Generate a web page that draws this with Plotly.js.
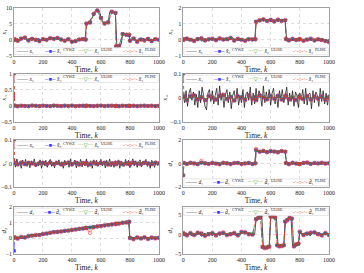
<!DOCTYPE html>
<html><head><meta charset="utf-8">
<script src="https://cdn.plot.ly/plotly-3.0.1.min.js"></script>
<style>html,body{margin:0;padding:0;background:#fff}#chart{width:364px;height:273px}</style>
</head><body><div id="chart"></div>
<script>
// time grids
const kTrue = [0,10,20,30,40,50,60,70,80,90,100,110,120,130,140,150,160,170,180,190,200,210,220,230,240,250,260,270,280,290,300,310,320,330,340,350,360,370,380,390,400,410,420,430,440,450,460,470,480,490,500,510,520,530,540,550,560,570,580,590,600,610,620,630,640,650,660,670,680,690,700,710,720,730,740,750,760,770,780,790,800,810,820,830,840,850,860,870,880,890,900,910,920,930,940,950,960,970,980,990,1000];
const kEst = [0,5,25,50,75,100,125,150,175,200,225,250,275,300,325,350,375,400,425,450,475,495,500,525,550,575,600,625,650,675,700,705,725,750,775,795,800,825,850,875,900,925,950,975,1000];
const kEstD3 = [0,5,25,50,75,100,125,150,175,200,225,250,275,300,325,350,375,400,425,450,475,500,515,530,545,560,575,590,600,615,630,645,660,675,690,700,715,730,745,760,775,790,800,825,850,875,900,925,950,975,1000];
const xTicks = [0,200,400,600,800,1000];

// x1
const x1True = [0.1,-0.3,0.4,0.2,-0.4,0.5,0.3,0.8,0.6,-0.2, 0.3,0.5,-0.1,0.2,0.4,-0.3,0.1,0.6,-0.2,0.1, 0.3,-0.2,0.2,0.0,0.4,0.6,0.5,0.7,0.3,0.5, 0.6,0.2,0.4,-0.1,0.1,-0.3,0.2,0.0,0.3,-0.2, -0.5,-0.6,-0.3,-0.5,-0.2,0.1,0.2,0.0,0.4,0.2, 5.0,5.4,5.3,6.6,6.9,8.0,9.1,9.3,8.9,9.0, 7.0,5.6,5.2,5.0,5.4,5.5,8.6,8.9,8.5,8.7, 8.3,-2.0,-2.6,-1.6,-1.4,1.9,1.8,1.6,1.7,1.5, 0.3,-0.4,0.5,-0.1,0.2,-0.5,0.4,0.1,-0.3,0.5, 0.2,-0.2,0.4,-0.4,0.1,0.3,-0.3,0.2,0.5,-0.1, 0.3];
const x1CYWZ = [0.0,0.2, -0.2,0.4,0.7,-0.1,0.4,0.0,-0.3,0.2,0.1,0.5,0.4,0.6,0.2,-0.2,0.2,-0.5,-0.4,0.1,0.3, 0.1, 5.1,5.5,8.1,9.2,6.9,5.2,5.6,8.8,8.4, -2.0, -1.8,1.9,1.6, 1.5, -0.2,0.4,-0.5,0.2,-0.1,0.3,-0.4,0.2,0.1];
const x1ULISE = [0.0,0.1, -0.3,0.5,0.6,-0.2,0.3,0.1,-0.4,0.3,0.0,0.6,0.3,0.5,0.1,-0.3,0.3,-0.6,-0.3,0.2,0.2, 0.0, 5.0,5.6,8.0,9.1,7.0,5.1,5.5,8.7,8.5, -2.1, -1.9,1.8,1.7, 1.6, -0.3,0.5,-0.4,0.1,-0.2,0.4,-0.3,0.3,0.0];
const x1PLISE = [0.0,0.3, -0.3,0.5,0.8,-0.2,0.3,0.1,-0.4,0.3,0.0,0.6,0.3,0.7,0.1,-0.3,0.3,-0.6,-0.3,0.2,0.2, 0.2, 5.2,5.4,8.2,9.3,6.8,5.1,5.4,8.9,8.5, -1.9, -2.0,1.8,1.7, 1.7, -0.3,0.5,-0.6,0.1,-0.2,0.4,-0.3,0.3,0.0];

// x2
const x2True = [0.02,-0.05,0.08,0.03,-0.06,0.05,0.10,-0.04,0.06,0.01, -0.03,0.07,0.02,-0.08,0.04,0.09,-0.02,0.05,0.00,0.06, -0.05,0.03,0.08,-0.04,0.01,0.07,0.12,0.04,-0.03,0.06, 0.02,-0.06,0.05,0.09,0.15,0.03,-0.02,0.07,0.01,-0.04, 0.06,0.02,-0.07,0.04,0.08,-0.03,0.05,0.01,0.06,-0.02, 1.10,1.25,1.20,1.30,1.18,1.27,1.22,1.15,1.28,1.21, 1.26,1.12,1.24,1.19,1.30,1.14,1.22,1.27,1.18,1.24, 1.20,-0.06,0.03,0.08,-0.04,0.02,0.06,-0.08,0.01,0.05, -0.03,0.07,-0.05,0.02,0.09,-0.06,0.04,0.00,-0.04,0.06, 0.03,-0.07,0.05,0.01,-0.09,0.04,0.08,-0.03,0.02,-0.05, 0.04];
const x2CYWZ = [0.0,0.05, 0.08,0.02,-0.05,0.06,0.1,-0.02,0.04,0.07,0.0,0.09,0.03,0.05,0.12,-0.03,0.06,0.02,-0.04,0.05,0.03, 0.04, 1.15,1.22,1.28,1.2,1.25,1.17,1.26,1.2,1.23, 0.05, -0.02,0.06,0.01, 0.03, 0.05,-0.04,0.03,0.07,-0.02,0.04,0.01,-0.06,-0.12];
const x2ULISE = [0.0,0.03, 0.06,0.04,-0.03,0.08,0.07,0.0,0.02,0.05,0.02,0.07,0.05,0.03,0.1,-0.01,0.04,0.04,-0.02,0.07,0.01, 0.02, 1.17,1.2,1.26,1.22,1.23,1.19,1.24,1.22,1.21, 0.03, 0.0,0.04,0.03, 0.01, 0.03,-0.02,0.05,0.05,0.0,0.02,0.03,-0.04,-0.1];
const x2PLISE = [0.0,0.06, 0.1,0.0,-0.07,0.05,0.12,-0.04,0.06,0.09,-0.02,0.11,0.02,0.07,0.14,-0.05,0.08,0.0,-0.06,0.03,0.05, 0.06, 1.12,1.25,1.3,1.18,1.27,1.15,1.28,1.18,1.25, 0.07, -0.04,0.08,-0.01, 0.05, 0.07,-0.06,0.01,0.09,-0.04,0.06,-0.01,-0.08,-0.15];

// x3
const x3True = [0,0.004,-0.003,0.002,-0.005,0.003,0.001,-0.002,0.004,-0.001, 0.002,-0.004,0.003,0.000,-0.002,0.005,-0.003,0.001,0.002,-0.004, 0.003,-0.001,0.004,-0.002,0.000,0.002,-0.005,0.003,-0.001,0.002, -0.003,0.004,0.001,-0.002,0.003,-0.004,0.002,0.000,-0.003,0.004, 0.001,-0.002,0.003,-0.001,0.005,-0.003,0.002,-0.004,0.001,0.003, -0.002,0.004,-0.001,0.002,-0.005,0.003,0.000,-0.002,0.004,-0.003, 0.002,0.001,-0.004,0.003,-0.001,0.002,-0.003,0.005,0.000,-0.002, 0.003,-0.004,0.001,0.002,-0.003,0.004,-0.001,0.000,0.003,-0.002, 0.004,-0.003,0.001,-0.001,0.002,-0.004,0.003,0.000,-0.002,0.005, -0.001,0.002,-0.003,0.004,0.000,-0.002,0.003,-0.004,0.001,0.002, -0.001];
const x3CYWZ = [1.0,0.01,-0.01,0.005,0.0,-0.008,0.01,0.002,-0.005,0.007, 0.0,-0.006,0.009,0.003,-0.004,0.006,-0.002,0.008,-0.007,0.001, 0.005,-0.003,0.007,0.0,-0.006,0.004,0.008,-0.005,0.002,0.006, -0.004,0.003,-0.008,0.005,0.0,0.007,-0.003,0.004,-0.006,0.002, 0.006,-0.002,0.003,-0.005,0.001];
const x3ULISE = [1.0,0.008,-0.006,0.003,0.004,-0.005,0.007,0.0,-0.003,0.005, 0.002,-0.004,0.006,0.001,-0.002,0.004,0.0,0.006,-0.005,0.003, 0.003,-0.001,0.005,0.002,-0.004,0.002,0.006,-0.003,0.0,0.004, -0.002,0.001,-0.006,0.003,0.002,0.005,-0.001,0.002,-0.004,0.0, 0.004,0.0,0.002,-0.003,0.003];
const x3PLISE = [1.0,0.012,-0.012,0.007,-0.003,-0.01,0.012,0.004,-0.007,0.009, -0.002,-0.008,0.011,0.005,-0.006,0.008,-0.004,0.01,-0.009,0.003, 0.007,-0.005,0.009,-0.002,-0.008,0.006,0.01,-0.007,0.004,0.008, -0.006,0.005,-0.01,0.007,-0.002,0.009,-0.005,0.006,-0.008,0.004, 0.008,-0.004,0.005,-0.007,0.002];

// x4
const x4True = [0.01,-0.02,0.03,-0.035,0.02,0.04,-0.01,0.025,-0.03,0.015, -0.04,0.03,-0.02,0.045,0.01,-0.035,-0.05,0.02,0.035,-0.015, 0.03,-0.025,0.01,0.04,-0.03,0.05,-0.01,0.02,-0.04,0.015, 0.035,-0.02,0.025,-0.045,0.01,0.03,-0.015,0.04,-0.03,0.005, -0.02,0.035,-0.04,0.015,0.025,-0.01,0.045,-0.03,0.02,-0.025, 0.04,-0.015,0.03,0.01,-0.035,0.05,-0.02,0.025,-0.01,0.035, -0.03,0.02,0.04,-0.025,0.015,-0.04,0.03,-0.005,0.035,-0.02, 0.01,0.045,-0.03,0.02,-0.015,0.03,-0.035,0.025,0.01,-0.04, 0.02,-0.01,0.035,-0.025,0.04,-0.03,0.015,0.02,-0.045,0.03, -0.02,0.025,0.01,-0.035,0.04,-0.015,0.03,-0.025,0.02,-0.03, 0.015];
const x4CYWZ = [0.1,0.005,-0.008,0.006,0.01,-0.005,0.003,-0.009,0.007,0.002, -0.006,0.008,0.012,-0.004,0.005,-0.01,0.006,0.003,-0.007,0.009, -0.002,0.004,-0.008,0.01,0.002,-0.005,0.007,-0.003,0.008,-0.006, 0.004,0.009,-0.005,0.002,-0.008,0.006,0.003,-0.004,0.007,-0.006, 0.005,-0.002,0.004,-0.007,0.003];
const x4ULISE = [0.1,0.003,-0.006,0.004,0.008,-0.003,0.005,-0.007,0.005,0.004, -0.004,0.006,0.01,-0.002,0.007,-0.008,0.004,0.005,-0.005,0.007, 0.0,0.006,-0.006,0.008,0.004,-0.003,0.005,-0.001,0.006,-0.004, 0.006,0.007,-0.003,0.004,-0.006,0.004,0.005,-0.002,0.005,-0.004, 0.003,0.0,0.002,-0.005,0.004];
const x4PLISE = [0.1,0.007,-0.01,0.008,0.012,-0.007,0.001,-0.011,0.009,0.0, -0.008,0.01,0.014,-0.006,0.003,-0.012,0.008,0.001,-0.009,0.011, -0.004,0.002,-0.01,0.012,0.0,-0.007,0.009,-0.005,0.01,-0.008, 0.002,0.011,-0.007,0.0,-0.01,0.008,0.001,-0.006,0.009,-0.008, 0.007,-0.004,0.006,-0.009,0.001];

// x5
const x5True = [0.01,-0.015,0.02,-0.01,0.005,-0.02,0.015,-0.005,0.018,-0.012, 0.008,-0.018,0.012,-0.006,0.02,-0.014,0.004,-0.01,0.016,-0.02, 0.01,-0.008,0.014,-0.016,0.006,0.018,-0.012,0.002,-0.018,0.012, -0.004,0.016,-0.01,0.008,-0.02,0.014,-0.006,0.01,-0.016,0.02, -0.012,0.006,0.015,-0.018,0.01,-0.004,0.018,-0.014,0.008,-0.01, 0.02,-0.016,0.004,0.012,-0.02,0.016,-0.008,0.014,-0.012,0.006, 0.018,-0.01,0.01,-0.018,0.014,-0.006,0.02,-0.014,0.008,-0.016, 0.012,-0.004,0.016,-0.02,0.01,0.006,-0.012,0.018,-0.008,0.014, -0.018,0.004,0.02,-0.01,0.012,-0.016,0.006,0.016,-0.014,0.01, -0.006,0.018,-0.012,0.008,-0.02,0.014,0.004,-0.016,0.012,-0.008, 0.01];
const x5CYWZ = [0.1,0.002,-0.003,0.004,-0.002,0.003,0.001,-0.004,0.002,0.003, -0.002,0.004,-0.001,0.002,-0.003,0.001,0.004,-0.002,0.003,-0.004, 0.002,0.0,0.003,-0.003,0.004,-0.001,0.002,0.003,-0.004,0.001, 0.003,-0.002,0.004,-0.003,0.001,0.002,-0.004,0.003,0.0,-0.002, 0.003,0.001,-0.002,0.003,0.001];
const x5ULISE = [0.1,0.001,-0.002,0.003,-0.001,0.002,0.002,-0.003,0.001,0.002, -0.001,0.003,0.0,0.001,-0.002,0.002,0.003,-0.001,0.002,-0.003, 0.001,0.001,0.002,-0.002,0.003,0.0,0.001,0.002,-0.003,0.002, 0.002,-0.001,0.003,-0.002,0.002,0.001,-0.003,0.002,0.001,-0.001, 0.002,0.002,-0.001,0.002,0.0];
const x5PLISE = [0.1,0.003,-0.004,0.005,-0.003,0.004,0.0,-0.005,0.003,0.004, -0.003,0.005,-0.002,0.003,-0.004,0.0,0.005,-0.003,0.004,-0.005, 0.003,-0.001,0.004,-0.004,0.005,-0.002,0.003,0.004,-0.005,0.0, 0.004,-0.003,0.005,-0.004,0.0,0.003,-0.005,0.004,-0.001,-0.003, 0.004,0.0,-0.003,0.004,0.002];

// d1
const d1True = [0.02,-0.05,0.06,0.01,-0.04,0.07,0.03,-0.02,0.05,-0.06, 0.04,0.09,-0.03,0.02,0.06,-0.05,0.01,0.08,-0.02,0.03, -0.04,0.05,0.02,-0.06,0.07,0.01,-0.03,0.06,0.04,-0.02, 0.05,-0.04,0.08,0.02,-0.05,0.03,0.06,-0.01,0.04,-0.03, 0.02,0.06,-0.04,0.01,0.05,-0.06,0.03,0.07,-0.02,0.04, 1.12,1.02,0.98,1.06,1.00,1.08,0.96,1.04,1.10,0.99, 1.05,0.97,1.09,1.01,1.06,0.95,1.07,1.03,0.98,1.04, 1.02,-0.05,0.06,0.01,-0.04,0.07,0.02,-0.06,0.04,0.08, -0.02,0.05,0.03,-0.05,0.06,0.01,-0.03,0.07,0.04,-0.01, 0.05,-0.04,0.02,0.06,-0.05,0.03,0.08,-0.02,0.04,0.01, 0.03];
const d1CYWZ = [-1.0,0.05, -0.03,0.06,0.02,-0.04,0.08,0.03,-0.02,0.05,0.01,-0.05,0.06,0.03,-0.03,0.04,0.07,-0.02,0.02,0.05,-0.03, 0.02, 1.15,1.02,1.07,0.98,1.05,1.03,0.97,1.06,1.02, 0.04, -0.04,0.06,0.01, -0.02, -0.03,0.05,0.08,-0.02,0.04,0.02,0.06,0.01,0.03];
const d1ULISE = [-1.0,0.03, -0.01,0.04,0.04,-0.02,0.06,0.05,0.0,0.03,0.03,-0.03,0.04,0.05,-0.01,0.02,0.05,0.0,0.04,0.03,-0.01, 0.0, 1.12,1.04,1.05,1.0,1.03,1.05,0.99,1.04,1.04, 0.02, -0.02,0.04,0.03, 0.0, -0.01,0.03,0.06,0.0,0.02,0.04,0.04,0.03,0.01];
const d1PLISE = [-1.0,0.07, -0.05,0.08,0.0,-0.06,0.22,0.01,-0.04,0.07,-0.01,-0.07,0.08,0.01,-0.05,0.06,0.05,-0.04,0.0,0.07,-0.05, 0.04, 1.25,1.0,1.09,0.96,1.07,1.01,0.95,1.08,1.0, 0.06, -0.06,0.08,-0.01, -0.04, -0.05,0.07,0.1,-0.04,0.06,0.0,0.08,-0.01,0.05];

// d2
const d2True = [0.03,-0.03,0.06,0.00,0.05,0.08,-0.01,0.07,0.12,0.04, 0.15,0.10,0.18,0.12,0.21,0.16,0.24,0.19,0.22,0.28, 0.24,0.30,0.26,0.33,0.29,0.36,0.41,0.35,0.43,0.38, 0.42,0.37,0.45,0.40,0.48,0.43,0.47,0.52,0.45,0.55, 0.50,0.56,0.52,0.60,0.55,0.63,0.58,0.66,0.61,0.68, 0.64,0.70,0.66,0.73,0.69,0.76,0.71,0.79,0.74,0.81, 0.77,0.84,0.80,0.86,0.82,0.89,0.85,0.92,0.88,0.95, 0.90,0.97,0.93,1.00,0.96,1.03,0.99,1.06,1.02,1.08, 0.04,-0.05,0.06,0.01,-0.03,0.07,-0.02,0.05,0.02,-0.06, 0.04,0.08,-0.03,0.02,0.06,-0.04,0.03,0.07,-0.01,0.05, 0.02];
const d2CYWZ = [-0.8,0.05, 0.0,0.08,0.06,0.14,0.18,0.2,0.22,0.27,0.31,0.35,0.4,0.41,0.44,0.47,0.5,0.53,0.57,0.6,0.63, 0.66, 0.66,0.7,0.72,0.76,0.79,0.82,0.86,0.88,0.92, 0.93, 0.95,0.99,1.02, 1.05, 0.03,-0.04,0.05,0.0,0.06,-0.03,0.04,0.01,0.03];
const d2ULISE = [0.05,0.02, 0.03,0.06,0.08,0.12,0.2,0.18,0.24,0.25,0.33,0.33,0.42,0.39,0.46,0.45,0.52,0.51,0.59,0.58,0.65, 0.64, 0.68,0.68,0.74,0.74,0.81,0.8,0.88,0.86,0.94, 0.91, 0.97,0.97,1.04, 1.03, 0.05,-0.02,0.03,0.02,0.04,-0.01,0.02,0.03,0.01];
const d2PLISE = [0.05,0.08, -0.03,0.1,0.04,0.16,0.16,0.22,0.2,0.29,0.29,0.37,0.38,0.43,0.42,0.49,0.48,0.55,0.55,0.62,0.61, 0.68, 0.64,0.35,0.7,0.78,0.77,0.84,0.84,0.9,0.9, 0.95, 0.93,1.01,1.0, 1.07, 0.01,-0.06,0.07,-0.02,0.08,-0.05,0.06,-0.01,0.05];

// d3
const d3True = [0.2,-0.3,0.4,0.1,-0.2,0.5,-0.4,0.3,0.0,-0.3, 0.4,0.2,-0.3,-0.5,0.1,0.3,-0.2,0.5,-0.1,0.2, -0.4,0.3,0.1,-0.2,0.4,-0.3,0.2,0.0,0.5,-0.2, 0.1,-0.4,0.3,0.2,-0.1,0.4,-0.3,0.1,0.3,-0.2, 0.6,0.8,0.5,0.7,0.2,-0.1,0.3,-0.2,0.1,0.0, 3.8,4.3,4.1,4.6,4.2,-3.3,-3.5,-3.2,-3.4,-3.1, 4.4,4.8,4.5,4.2,4.0,-2.9,-3.1,-2.8,-3.0,-2.9, 3.2,3.6,4.0,4.3,4.1,-2.9,-3.2,-2.6,-2.5,-2.4, 0.8,0.2,-0.3,0.4,0.1,-0.2,0.3,-0.4,0.2,0.5, 0.6,0.1,-0.2,0.4,0.3,-0.3,0.2,-0.1,0.4,0.0, -0.2];
const d3CYWZ = [0.3,0.1, -0.2,0.3,-0.1,0.4,0.2,-0.3,0.1,0.3,-0.2,0.2,0.4,-0.1,0.1,0.3,-0.2,0.6,0.5,0.1,0.0, 3.9,4.2,4.4,-3.2,-3.4,-3.3,-3.1,4.5,4.6,4.3,-2.8,-3.0,-2.9,-2.8,3.3,3.7,4.2,4.0,-3.0,-2.6,-2.4,0.6, -0.1,0.2,0.4,0.5,0.1,-0.2,0.3,-0.1];
const d3ULISE = [0.2,0.0, -0.1,0.2,0.0,0.3,0.1,-0.2,0.2,0.2,-0.1,0.1,0.3,0.0,0.2,0.2,-0.1,0.5,0.4,0.2,0.1, 4.0,4.1,4.3,-3.1,-3.3,-3.2,-3.0,4.4,4.5,4.2,-2.9,-2.9,-2.8,-2.9,3.4,3.8,4.1,3.9,-2.9,-2.7,-2.5,0.5, 0.0,0.1,0.3,0.4,0.2,-0.1,0.2,0.0];
const d3PLISE = [0.4,0.2, -0.3,0.4,-0.2,0.5,0.3,-0.4,0.0,0.4,-0.3,0.3,0.5,-0.2,0.0,0.4,-0.3,0.7,0.6,0.0,-0.1, 3.8,4.3,4.6,-3.3,-3.5,-3.4,-3.2,4.7,4.8,4.4,-2.7,-3.1,-3.0,-2.7,3.2,3.6,4.3,4.1,-3.1,-2.5,-2.3,0.8, -0.2,0.3,0.5,0.6,0.0,-0.3,0.4,-0.2];

const methods = ['CYWZ','ULISE','PLISE'];
const subDigits = {'1':'\u2081','2':'\u2082','3':'\u2083','4':'\u2084','5':'\u2085'};
const panels = [
  {v:'x', i:'1', t:x1True, e:[x1CYWZ,x1ULISE,x1PLISE], k:kEst, range:[-5,10], ticks:[-5,0,5,10], leg:'bottom'},
  {v:'x', i:'2', t:x2True, e:[x2CYWZ,x2ULISE,x2PLISE], k:kEst, range:[-1,2], ticks:[-1,0,1,2], leg:'bottom'},
  {v:'x', i:'3', t:x3True, e:[x3CYWZ,x3ULISE,x3PLISE], k:kEst, range:[-0.5,1], ticks:[-0.5,0,0.5,1], leg:'top'},
  {v:'x', i:'4', t:x4True, e:[x4CYWZ,x4ULISE,x4PLISE], k:kEst, range:[-0.1,0.1], ticks:[-0.1,0,0.1], leg:'top'},
  {v:'x', i:'5', t:x5True, e:[x5CYWZ,x5ULISE,x5PLISE], k:kEst, range:[-0.1,0.1], ticks:[-0.1,0,0.1], leg:'top'},
  {v:'d', i:'1', t:d1True, e:[d1CYWZ,d1ULISE,d1PLISE], k:kEst, range:[-2,2], ticks:[-2,0,2], leg:'bottom'},
  {v:'d', i:'2', t:d2True, e:[d2CYWZ,d2ULISE,d2PLISE], k:kEst, range:[-1,2], ticks:[-1,0,1,2], leg:'top'},
  {v:'d', i:'3', t:d3True, e:[d3CYWZ,d3ULISE,d3PLISE], k:kEstD3, range:[-5,7], ticks:[-5,0,5], leg:'top'}
];

const FONT = 'Liberation Serif, DejaVu Serif, serif';
const estStyle = [
  {color:'#3b3bff', dash:'dash', symbol:'square', size:2.8},
  {color:'#1f9e1f', dash:'dot', symbol:'triangle-down-open', size:3.4},
  {color:'#ff2a2a', dash:'dashdot', symbol:'circle-open', size:3.5}
];
const legSym = [
  '<span style="color:#333">——</span>',
  '<span style="color:#3b3bff">--■--</span>',
  '<span style="color:#1f9e1f">···▽···</span>',
  '<span style="color:#ff2a2a">-·-○-·-</span>'
];
const xDom = [[0,0.46],[0.537,1]];
const yDom = [[0.805,1],[0.537,0.732],[0.272,0.463],[0,0.191]];

const traces = [];
const layout = {
  width:364, height:273, margin:{l:14,r:35,t:8,b:19},
  paper_bgcolor:'#fff', plot_bgcolor:'#fff', showlegend:false,
  font:{family:FONT, size:6, color:'#222'},
  annotations:[], shapes:[]
};

panels.forEach((p, n) => {
  const s = n === 0 ? '' : String(n+1);
  const xa = 'x'+s, ya = 'y'+s;
  const col = n % 2, row = Math.floor(n/2);
  const sub = subDigits[p.i];
  traces.push({x:kTrue, y:p.t, xaxis:xa, yaxis:ya, type:'scatter', mode:'lines',
    line:{color:'#222', width:0.8}, showlegend:false, hoverinfo:'skip'});
  p.e.forEach((arr, m) => {
    const st = estStyle[m];
    traces.push({x:p.k, y:arr, xaxis:xa, yaxis:ya, type:'scatter', mode:'lines+markers',
      line:{color:st.color, width:0.7, dash:st.dash},
      marker:{symbol:st.symbol, size:st.size, color:st.color, line:{color:st.color, width:0.6}},
      showlegend:false, hoverinfo:'skip'});
  });
  layout['xaxis'+s] = {domain:xDom[col], anchor:ya, range:[0,1000], tickvals:xTicks,
    showgrid:true, gridcolor:'#c8c8c8', griddash:'dot', gridwidth:0.6, zeroline:false,
    showline:true, mirror:true, linecolor:'#777', linewidth:0.7, ticks:'',
    tickfont:{family:FONT, size:6, color:'#222'}, automargin:false,
    title:{text:'Time, <i>k</i>', font:{family:FONT, size:7.5, color:'#222'}, standoff:0}};
  layout['yaxis'+s] = {domain:yDom[row], anchor:xa, range:p.range, tickvals:p.ticks,
    showgrid:true, gridcolor:'#c8c8c8', griddash:'dot', gridwidth:0.6, zeroline:false,
    showline:true, mirror:true, linecolor:'#777', linewidth:0.7, ticks:'',
    tickfont:{family:FONT, size:6, color:'#222'}, automargin:false,
    title:{text:'<i>'+p.v+'</i>'+sub, font:{family:FONT, size:7, color:'#222'}, standoff:1}};
  const bottom = p.leg === 'bottom';
  const ly = bottom ? 0.1 : 0.9;
  // legend box
  layout.shapes.push({type:'rect', xref:xa+' domain', yref:ya+' domain', layer:'above',
    x0:0.005, x1:0.995, y0: bottom ? 0.025 : 0.82, y1: bottom ? 0.175 : 0.975,
    fillcolor:'rgba(255,255,255,0.9)', line:{color:'#d0d0d0', width:0.5}});
  const lfont = {family:FONT, size:5.5, color:'#222'};
  // true-state entry
  layout.annotations.push({xref:xa+' domain', yref:ya+' domain', x:0.007, y:ly,
    xanchor:'left', yanchor:'middle', showarrow:false, borderpad:0,
    text:legSym[0]+' <i>'+p.v+'</i>'+sub, font:lfont});
  // estimate entries: main part right-anchored, method name as raised small text
  const joins = [0.33, 0.595, 0.9];
  methods.forEach((mt, m) => {
    layout.annotations.push({xref:xa+' domain', yref:ya+' domain', x:joins[m], y:ly,
      xanchor:'right', yanchor:'middle', showarrow:false, borderpad:0,
      text:legSym[m+1]+' <i>'+p.v+'\u0302</i>'+sub, font:lfont});
    layout.annotations.push({xref:xa+' domain', yref:ya+' domain', x:joins[m], y:ly,
      xanchor:'left', yanchor:'middle', yshift:1.8, showarrow:false, borderpad:0,
      text:mt, font:{family:FONT, size:4, color:'#222'}});
  });
});

Plotly.newPlot('chart', traces, layout, {displayModeBar:false, staticPlot:true});
</script></body></html>
